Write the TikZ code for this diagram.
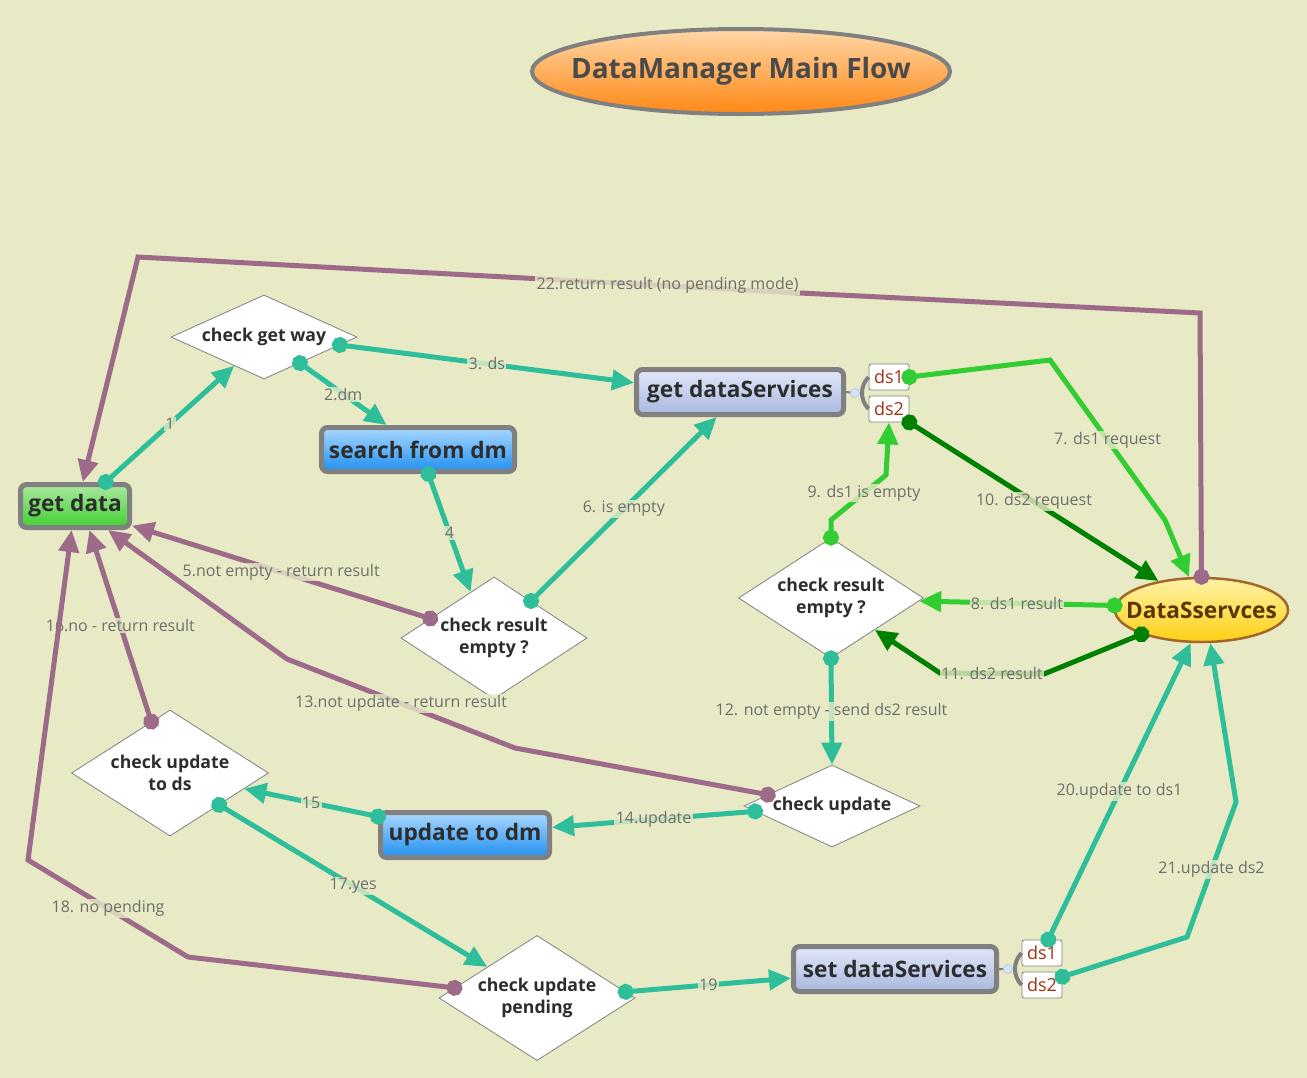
\documentclass[tikz,border=0pt]{standalone}
\usepackage{fontspec}
\setmainfont{Open Sans}
\usetikzlibrary{arrows.meta,shapes.geometric}
\definecolor{bgc}{RGB}{232,234,198}
\definecolor{tealc}{RGB}{46,191,154}
\definecolor{purplec}{RGB}{158,106,137}
\definecolor{lgreen}{RGB}{50,205,50}
\definecolor{dgreen}{RGB}{0,128,0}
\definecolor{lblgray}{RGB}{110,110,110}
\definecolor{txtc}{RGB}{45,45,45}
\definecolor{dsred}{RGB}{160,50,20}
\definecolor{boxgray}{RGB}{128,128,128}
\def\px{0.75pt}
\tikzset{
  flow/.style={line width=5*\px,{Circle[length=16*\px]}-{Triangle[length=22*\px,width=20*\px]},shorten <=-8*\px},
  tealflow/.style={flow,draw=tealc},
  purpleflow/.style={flow,draw=purplec},
  lgflow/.style={flow,draw=lgreen},
  dgflow/.style={flow,draw=dgreen},
  lbl/.style={font=\fontsize{12pt}{12pt}\selectfont,text=lblgray,fill=bgc,fill opacity=.8,text opacity=1,inner sep=1pt},
  box/.style={rectangle,rounded corners=6*\px,draw=boxgray,line width=5*\px,text=txtc,inner sep=0pt,
    font=\bfseries\fontsize{17pt}{17pt}\selectfont,minimum height=45*\px},
  greenbox/.style={box,top color={rgb,255:red,170;green,232;blue,160},bottom color={rgb,255:red,64;green,208;blue,48}},
  bluebox/.style={box,top color={rgb,255:red,170;green,216;blue,255},bottom color={rgb,255:red,32;green,144;blue,240}},
  lavbox/.style={box,top color={rgb,255:red,226;green,231;blue,248},bottom color={rgb,255:red,168;green,184;blue,224}},
  dia/.style={diamond,draw=boxgray,line width=.6pt,fill=white,inner sep=0pt,align=center,text=txtc,
    font=\bfseries\fontsize{13.25pt}{17pt}\selectfont},
  dsbox/.style={rectangle,rounded corners=2*\px,draw=boxgray,line width=.6pt,fill=white,inner sep=0pt,
    minimum width=40*\px,minimum height=26*\px,text=dsred,font=\fontsize{13.5pt}{13.5pt}\selectfont},
  minusdot/.style={circle,draw={rgb,255:red,168;green,191;blue,224},fill={rgb,255:red,214;green,228;blue,247},
    inner sep=0pt,minimum size=9*\px}
}
\begin{document}
\begin{tikzpicture}[x=\px,y=-\px]
  \fill[bgc] (0,0) rectangle (1307,1078);
  \useasboundingbox (0,0) rectangle (1307,1078);
  \node[ellipse,draw=boxgray,line width=4*\px,top color={rgb,255:red,255;green,215;blue,168},
    bottom color={rgb,255:red,255;green,136;blue,20},minimum width=418*\px,minimum height=85*\px,
    text={rgb,255:red,74;green,74;blue,74},font=\bfseries\fontsize{21pt}{21pt}\selectfont]
    (title) at (741,71.5) {\makebox[0pt]{DataManager Main Flow}};
  \node[greenbox,minimum width=109*\px,minimum height=43*\px] (getdata) at (75,506) {get data};
  \node[bluebox,minimum width=193*\px,minimum height=44*\px] (searchdm) at (418,449.5) {search from dm};
  \node[lavbox,minimum width=207*\px] (getds) at (740,392) {get dataServices};
  \node[bluebox,minimum width=169*\px] (updatedm) at (465,835) {update to dm};
  \node[lavbox,minimum width=203*\px] (setds) at (895,969) {set dataServices};
  \node[dsbox] (gds1) at (889,377) {ds1};
  \node[dsbox] (gds2) at (889,409) {ds2};
  \node[dsbox] (sds1) at (1042,953) {ds1};
  \node[dsbox] (sds2) at (1042,985) {ds2};
  \node[minusdot] (gdsm) at (855,393) {};
  \node[minusdot] (sdsm) at (1008,969) {};
  \draw[boxgray,line width=2*\px] (getds.east) -- (gdsm) (setds.east) -- (sdsm);
  \draw[boxgray,line width=4*\px] (gds1.west) to[bend right=45] (gds2.west) (sds1.west) to[bend right=45] (sds2.west);
  \node[ellipse,draw={rgb,255:red,160;green,105;blue,42},line width=2.5*\px,
    top color={rgb,255:red,255;green,242;blue,168},bottom color={rgb,255:red,255;green,208;blue,20},
    minimum width=173*\px,minimum height=64*\px,text={rgb,255:red,92;green,52;blue,0},
    font=\bfseries\fontsize{17pt}{17pt}\selectfont] (dserv) at (1201.5,610) {\makebox[0pt]{DataSservces}};
  \node[dia,minimum width=186*\px,minimum height=84*\px,aspect=2.2] (getway) at (264,337) {check get way};
  \node[dia,minimum width=186*\px,minimum height=122*\px,aspect=1.5] (empty1) at (494,638) {check result\\empty ?};
  \node[dia,minimum width=185*\px,minimum height=120*\px,aspect=1.5] (empty2) at (831,598) {check result\\empty ?};
  \node[dia,minimum width=197*\px,minimum height=126*\px,aspect=1.5] (updds) at (170,773) {check update\\to ds};
  \node[dia,minimum width=176*\px,minimum height=82*\px,aspect=2.15] (chkupd) at (832,806) {check update};
  \node[dia,minimum width=196*\px,minimum height=125*\px,aspect=1.5] (pending) at (537,998) {check update\\pending};
  \draw[tealflow] (getdata.38) -- node[lbl]{1} (getway.224);
  \draw[tealflow] (getway.324) -- node[lbl]{2.dm} (searchdm.142);
  \draw[tealflow] (getway.354) -- node[lbl]{3. ds} (getds.175);
  \draw[tealflow] (searchdm.293) -- node[lbl]{4} (empty1.117);
  \draw[purpleflow] (empty1.163) -- node[lbl]{5.not empty - return result} (getdata.341);
  \draw[tealflow] (empty1.45) -- node[lbl]{6. is empty} (getds.227);
  \draw[lgflow] (gds1.east) -- (1050,360) -- node[lbl]{7. ds1 request} (1165,520) -- (dserv.111);
  \draw[lgflow] (dserv.177) -- node[lbl]{8. ds1 result} (empty2.358);
  \draw[lgflow] (empty2.north) -- (831,520) -- node[lbl,pos=.6]{9. ds1 is empty} (886,475) -- (gds2.south);
  \draw[dgflow] (gds2.south east) -- node[lbl]{10. ds2 request} (dserv.146);
  \draw[dgflow] (dserv.202) -- (1044,674) -- node[lbl]{11. ds2 result} (940,673) -- (empty2.324);
  \draw[tealflow] (empty2.south) -- node[lbl]{12. not empty - send ds2 result} (chkupd.north);
  \draw[purpleflow] (chkupd.170) -- (515,748) -- node[lbl]{13.not update - return result} (287,659) -- (getdata.324);
  \draw[tealflow] (chkupd.184) -- node[lbl]{14.update} (updatedm.5);
  \draw[tealflow] (updatedm.168) -- node[lbl]{15} (updds.348);
  \draw[purpleflow] (updds.110) -- node[lbl]{16.no - return result} (getdata.301);
  \draw[tealflow] (updds.327) -- node[lbl]{17.yes} (pending.148);
  \draw[purpleflow] (pending.173) -- (188,957) -- node[lbl]{18. no pending} (28,860) -- (getdata.262);
  \draw[tealflow] (pending.4) -- node[lbl]{19} (setds.185);
  \draw[tealflow] (sds1.65) -- node[lbl]{20.update to ds1} (dserv.252);
  \draw[tealflow] (sds2.22) -- (1187,937) -- node[lbl]{21.update ds2} (1236,802) -- (dserv.285);
  \draw[purpleflow] (dserv.north) -- (1200,313) -- (800,293) -- node[lbl,pos=.2]{22.return result (no pending mode)} (138,257) -- (getdata.72);
\end{tikzpicture}
\end{document}
